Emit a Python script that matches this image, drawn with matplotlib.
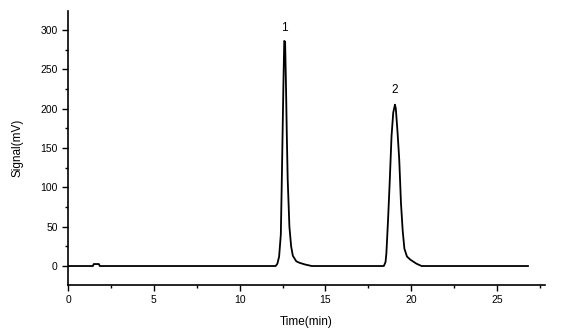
import matplotlib
matplotlib.use('Agg')
import matplotlib.pyplot as plt
from matplotlib.ticker import MultipleLocator

plt.rcParams['font.family'] = ['Liberation Sans', 'DejaVu Sans']

# chromatogram points (time in min, signal in mV)
time = [0, 1.45, 1.5, 1.8, 1.85,
        12.1, 12.2, 12.3, 12.4, 12.45, 12.5, 12.55, 12.6, 12.65, 12.7, 12.75,
        12.8, 12.85, 12.9, 13.0, 13.1, 13.3, 13.5, 13.8, 14.2,
        18.4, 18.5, 18.55, 18.65, 18.75, 18.85, 18.95, 19.05, 19.1, 19.2,
        19.3, 19.4, 19.5, 19.6, 19.75, 19.95, 20.3, 20.6, 26.8]
signal = [0, 0, 2.5, 2.5, 0,
          0, 3, 12, 40, 100, 165, 230, 286, 285, 230, 165,
          110, 80, 50, 25, 13, 6, 4, 2, 0,
          0, 5, 16, 60, 110, 165, 195, 205, 200, 170,
          135, 80, 45, 22, 12, 8, 3, 0, 0]

peak_labels = ['1', '2']
peak_x = [12.6, 19.05]
peak_y = [302, 224]

fig = plt.figure(figsize=(5.62, 3.34), dpi=100)
ax = fig.add_axes([0.121, 0.147, 0.849, 0.82])

ax.plot(time, signal, color='black', lw=1.3)

for lab, x, y in zip(peak_labels, peak_x, peak_y):
    ax.text(x, y, lab, ha='center', va='center', fontsize=8.5)

ax.set_xlim(0, 27.8)
ax.set_ylim(-24, 324)
ax.xaxis.set_major_locator(MultipleLocator(5))
ax.xaxis.set_minor_locator(MultipleLocator(2.5))
ax.yaxis.set_major_locator(MultipleLocator(50))
ax.yaxis.set_minor_locator(MultipleLocator(25))
ax.tick_params(which='both', direction='out', labelsize=7.5, width=1)
ax.tick_params(which='major', length=4)
ax.tick_params(which='minor', length=2.5)

for s in ['top', 'right']:
    ax.spines[s].set_visible(False)
for s in ['left', 'bottom']:
    ax.spines[s].set_linewidth(1.2)

ax.set_xlabel('Time(min)', fontsize=8.5, labelpad=8)
ax.set_ylabel('Signal(mV)', fontsize=8.5, labelpad=12)

fig.savefig('out.png', dpi=100)
